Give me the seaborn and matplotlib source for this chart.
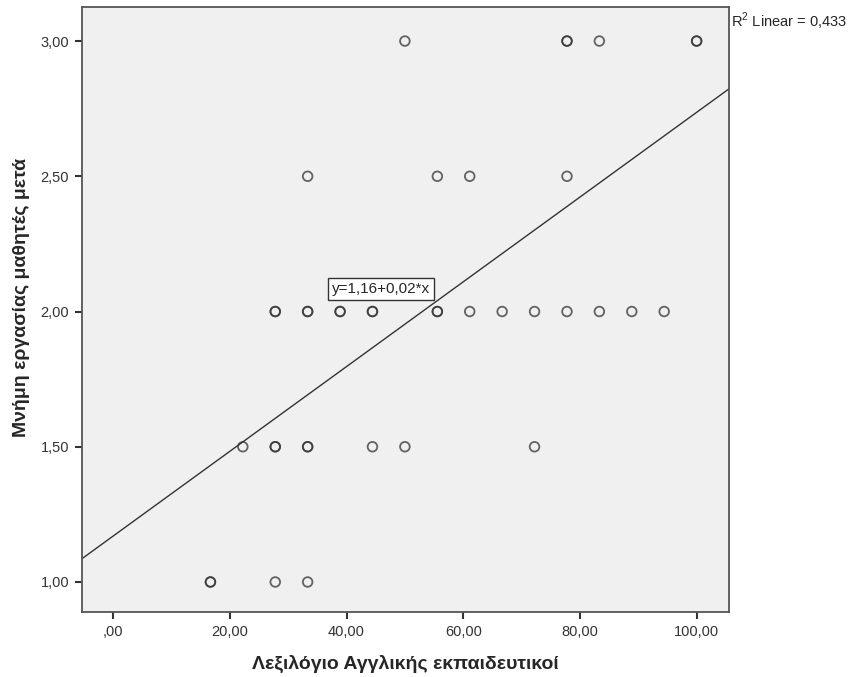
import numpy as np
import pandas as pd
import matplotlib
matplotlib.use("Agg")
import matplotlib.pyplot as plt
from matplotlib.ticker import FuncFormatter
import seaborn as sns

# values (overlapping points repeated)
vocab_teacher = [16.67, 16.67, 27.78, 33.33,
                 22.22, 27.78, 27.78, 33.33, 33.33, 44.44, 50.00, 72.22,
                 27.78, 27.78, 33.33, 33.33, 38.89, 38.89, 44.44, 44.44,
                 55.56, 55.56, 61.11, 66.67, 72.22, 77.78, 83.33, 88.89, 94.44,
                 33.33, 55.56, 61.11, 77.78,
                 50.00, 77.78, 77.78, 83.33, 100.00, 100.00]
memory_after = [1.0] * 4 + [1.5] * 8 + [2.0] * 17 + [2.5] * 4 + [3.0] * 6
x_ticks = [0, 20, 40, 60, 80, 100]
y_ticks = [1.0, 1.5, 2.0, 2.5, 3.0]
x_label = "Λεξιλόγιο Αγγλικής εκπαιδευτικοί"
y_label = "Μνήμη εργασίας μαθητές μετά"
eq_text = "y=1,16+0,02*x"
r2_text = r"R$^2$ Linear = 0,433"

df = pd.DataFrame({"x": vocab_teacher, "y": memory_after})

sns.set_style("white")
plt.rcParams["font.family"] = ["Liberation Sans", "DejaVu Sans"]
plt.rcParams["mathtext.fontset"] = "custom"
plt.rcParams["mathtext.rm"] = "Liberation Sans"

fig = plt.figure(figsize=(8.49, 6.77), dpi=100)
ax = fig.add_axes([0.0962, 0.096, 0.7628, 0.8937])
ax.set_facecolor("#f0f0f0")
ax.set_xlim(-5.4, 105.6)
ax.set_ylim(0.889, 3.126)

# fit line across the whole axis range
sns.regplot(data=df, x="x", y="y", ax=ax, scatter=False, ci=None, truncate=False,
            line_kws={"color": "#333333", "lw": 1.0})
sns.scatterplot(data=df, x="x", y="y", ax=ax, marker="o", s=48,
                facecolors="none", edgecolor="#333333", linewidth=1.3, alpha=0.75)
ax.set_xlim(-5.4, 105.6)
ax.set_ylim(0.889, 3.126)

def comma_fmt(v, pos):
    s = f"{v:.2f}".replace(".", ",")
    return s[1:] if s.startswith("0,") else s

ax.set_xticks(x_ticks)
ax.set_yticks(y_ticks)
ax.xaxis.set_major_formatter(FuncFormatter(comma_fmt))
ax.yaxis.set_major_formatter(FuncFormatter(comma_fmt))
ax.tick_params(axis="both", direction="out", length=5, width=1.5, color="#333333",
               labelsize=10.5, labelcolor="#333333", bottom=True, left=True, pad=4)
for sp in ax.spines.values():
    sp.set_color("#555555")
    sp.set_linewidth(1.3)

label_font = ["Liberation Sans Narrow", "Liberation Sans", "DejaVu Sans"]
ax.set_xlabel(x_label, fontsize=14, fontweight="bold", labelpad=12, family=label_font)
ax.set_ylabel(y_label, fontsize=14, fontweight="bold", family=label_font)
ax.yaxis.set_label_coords(-0.08, 0.52)

ax.text(45.9, 2.083, eq_text, ha="center", va="center", fontsize=11,
        bbox=dict(boxstyle="square,pad=0.25", facecolor="white", edgecolor="#333333", lw=1))
fig.text(0.861, 0.968, r2_text, ha="left", va="center", fontsize=10.5)

fig.savefig("out.png", dpi=100)
